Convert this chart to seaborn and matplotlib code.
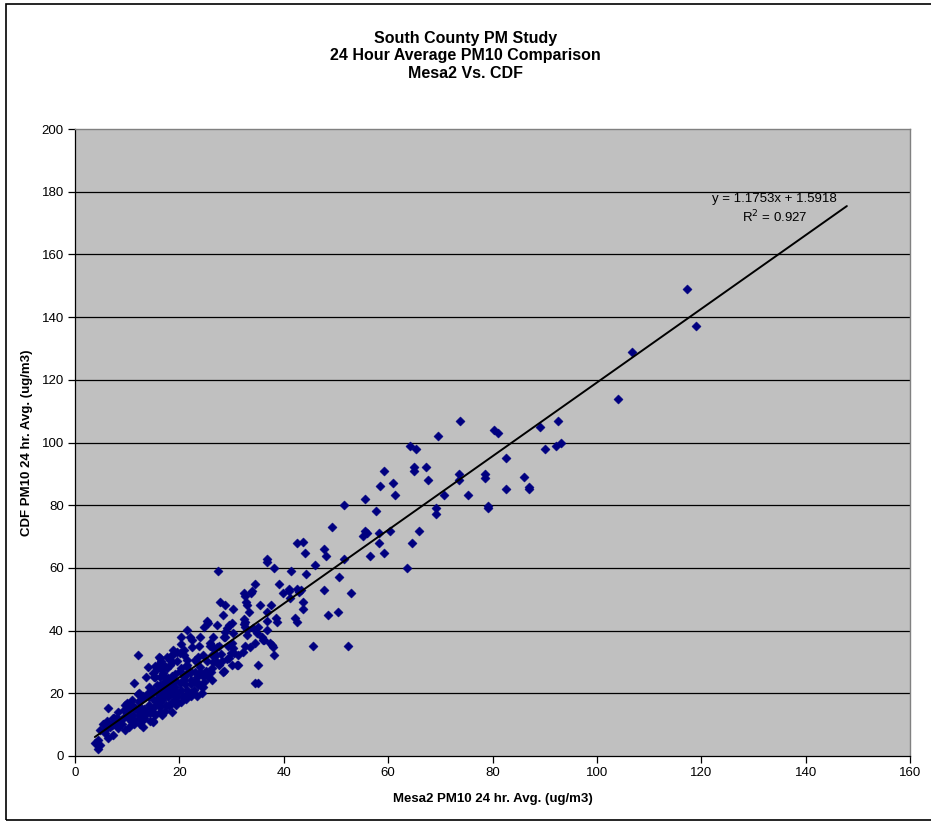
import numpy as np
import pandas as pd
import matplotlib
matplotlib.use("Agg")
import matplotlib.pyplot as plt
import seaborn as sns
from matplotlib.patches import Rectangle

# Mesa2 (x) vs CDF (y) 24 hr averages
mesa2 = [
    117.2, 118.9, 106.8, 104.1, 92.5, 89.1, 90.1, 92.2, 93.1, 82.5, 86.0, 87.0, 87.0, 82.5,
    73.8, 80.2, 81.1, 69.5, 64.1, 65.4, 64.9, 64.9, 67.2, 59.3, 67.6, 61.0, 58.5, 73.5, 73.5,
    78.6, 78.6, 61.4, 55.5, 70.8, 75.3, 51.6, 57.6, 69.1, 69.1, 79.2, 79.2, 49.3, 55.5, 55.1,
    55.9, 58.3, 60.3, 66.0, 58.2, 64.5, 43.6, 42.6, 47.8, 44.1, 48.0, 56.6, 59.3, 51.6, 46.0,
    63.7, 44.3, 50.5, 43.4, 47.8, 52.8, 43.7, 43.6, 48.4, 50.3, 45.7, 52.4,
    36.8, 36.8, 38.1, 41.4, 27.4, 39.1, 41.1, 42.5, 34.5, 32.3, 32.6, 33.9, 33.7, 39.9, 41.0,
    42.9, 41.2, 32.8, 33.0, 27.7, 28.7, 35.5, 37.6, 30.3, 33.4, 36.7, 28.4, 42.1, 38.6, 38.7,
    36.8, 42.5, 25.2, 25.5, 30.1, 29.6, 32.3, 32.6, 32.3, 32.6, 33.0, 32.9, 29.1, 28.8, 24.7,
    34.2, 35.1, 34.8, 35.8, 36.7, 28.7, 24.0, 36.1, 34.5, 33.5, 32.6, 37.7, 30.0, 30.3, 27.3,
    26.5, 25.9, 27.3, 21.5, 30.3, 20.4, 22.0, 22.5, 26.5, 25.9, 20.8, 20.2, 22.4, 23.8, 29.3,
    29.9, 29.6, 28.0, 26.8, 24.6, 23.6, 23.0, 18.7, 16.2, 18.5, 19.5, 21.4, 20.4, 31.0, 28.5,
    26.0, 24.0, 24.5, 23.3, 22.0, 20.8, 16.3, 15.3, 16.9, 17.9, 26.2, 22.3, 23.5, 24.6, 19.2,
    20.1, 18.2, 15.7, 16.6, 15.0, 17.9, 18.8, 19.5, 16.9, 16.0,
    12.1, 16.0, 16.4, 18.5, 15.4, 17.2, 17.7, 18.2, 15.2, 16.9, 17.2, 18.5, 11.3, 16.3, 17.8,
    18.5, 12.3, 14.0, 15.7, 10.9, 12.5, 14.7, 16.6, 17.9, 6.4, 9.6, 10.9, 8.3, 9.9, 12.1, 13.4,
    15.0, 16.6, 18.5, 7.3, 8.9, 10.9, 13.1, 15.0, 5.4, 6.7, 8.3, 9.6, 4.8, 5.7, 7.3, 6.4, 4.5,
    3.8, 4.8, 4.5,
    14.0, 15.7, 24.0, 21.3, 23.0, 24.9, 24.7, 25.5, 27.5, 28.4, 30.0, 31.3, 35.1, 34.5, 35.1,
    36.2, 37.4, 38.0, 38.2, 28.6, 26.2, 27.6, 26.2, 27.1, 23.3, 20.8, 21.4, 17.6, 18.2, 16.3,
    16.9, 15.0, 13.7, 16.3, 12.1, 13.4, 14.2, 9.9, 10.5, 11.5, 9.3, 7.5, 8.3, 7.0, 6.1, 5.6,
    4.0, 15.0, 13.1, 12.5, 14.4, 16.3, 17.6, 18.2, 19.5, 19.2, 20.8, 21.4, 22.4, 20.4, 18.8,
    19.5,
    10.2, 11.1, 12.3, 13.2, 14.1, 15.3, 16.2, 17.1, 18.3, 19.2, 20.3, 21.1, 22.2, 23.1, 11.4,
    12.6, 13.5, 14.4, 15.6, 17.4, 18.6, 19.4, 20.6, 21.7, 22.8, 24.2, 25.1, 26.3, 27.2, 28.1,
    29.2, 30.4, 31.2, 32.1, 25.3, 26.4, 22.1, 21.2, 19.1, 20.2, 17.0, 16.1, 14.2, 13.1, 12.2,
    11.2, 10.1, 9.2, 8.1, 7.2, 6.2, 9.1, 10.3, 11.3, 12.4, 13.3, 14.3, 15.4, 16.3, 17.3, 18.1,
    19.3, 20.4, 21.3, 22.3, 23.4, 24.3,
]
cdf = [
    148.9, 137.1, 129.0, 113.9, 106.9, 104.9, 97.8, 98.9, 99.8, 95.0, 88.9, 85.9, 85.1, 85.1,
    106.9, 104.0, 103.1, 102.1, 98.9, 97.9, 92.1, 90.9, 92.2, 90.9, 88.0, 87.0, 86.0, 89.9, 88.0,
    89.9, 88.8, 83.2, 81.9, 83.2, 83.2, 80.0, 78.0, 79.1, 77.1, 79.8, 79.0, 72.9, 71.9, 70.2,
    71.0, 71.0, 71.9, 71.9, 68.0, 68.0, 68.2, 68.0, 66.1, 64.9, 63.9, 63.9, 64.9, 62.9, 61.0,
    60.1, 58.2, 57.2, 53.1, 53.1, 52.1, 49.2, 46.9, 45.0, 45.9, 35.1, 35.1,
    62.9, 61.9, 60.1, 59.1, 59.1, 55.0, 53.3, 53.3, 55.0, 52.1, 51.1, 52.7, 51.9, 51.9, 52.7,
    52.4, 50.3, 49.2, 48.2, 49.2, 48.2, 48.2, 48.2, 46.9, 46.0, 46.0, 45.0, 44.1, 43.9, 42.8,
    43.1, 42.8, 43.2, 42.3, 42.3, 41.7, 43.8, 42.8, 42.1, 41.2, 40.2, 38.7, 40.7, 39.7, 41.0,
    40.7, 41.2, 39.1, 38.1, 40.2, 37.9, 38.1, 37.0, 35.9, 34.9, 35.1, 35.4, 35.9, 34.4, 34.9,
    34.4, 35.1, 41.8, 40.2, 39.3, 38.1, 38.1, 37.0, 38.1, 35.9, 33.8, 32.9, 34.7, 35.1, 35.1,
    32.8, 31.2, 32.5, 32.2, 32.2, 31.7, 30.6, 32.5, 31.2, 30.1, 30.3, 29.0, 28.0, 29.0, 27.1,
    26.9, 26.9, 25.5, 25.1, 26.4, 25.1, 28.0, 25.1, 26.4, 24.8, 24.2, 22.9, 22.6, 22.1, 24.2,
    23.2, 22.6, 22.6, 21.6, 21.1, 21.1, 20.0, 18.9, 20.0, 18.9,
    32.2, 31.5, 30.4, 32.2, 28.7, 28.7, 28.0, 29.0, 25.1, 25.8, 24.0, 25.5, 23.3, 22.6, 22.1,
    23.2, 20.0, 20.2, 20.0, 17.9, 17.9, 18.4, 17.9, 18.9, 15.2, 16.3, 15.5, 14.1, 13.6, 14.4, 13.1,
    14.1, 13.1, 14.1, 12.0, 11.5, 10.9, 9.2, 11.3, 10.2, 9.3, 8.8, 8.3, 8.3, 7.2, 6.7, 5.6, 5.1,
    4.1, 3.5, 2.1,
    28.5, 27.7, 28.5, 28.7, 26.9, 26.4, 23.7, 25.3, 29.0, 26.9, 29.0, 29.0, 29.0, 23.2, 23.2,
    37.0, 35.9, 34.9, 32.2, 38.1, 35.1, 35.1, 32.2, 32.2, 30.1, 32.2, 30.6, 31.7, 30.6, 29.6,
    28.5, 26.4, 25.3, 25.3, 19.8, 18.9, 18.9, 16.8, 15.7, 15.2, 14.7, 12.0, 10.9, 9.9, 8.8, 10.1,
    4.0, 10.9, 11.5, 13.1, 13.6, 15.7, 20.5, 22.1, 20.0, 17.9, 24.2, 21.1, 20.0, 35.7, 33.8,
    33.3,
    12.1, 13.2, 12.0, 15.1, 16.2, 16.1, 17.2, 19.1, 20.2, 22.1, 21.2, 23.1, 24.2, 24.0, 11.1,
    15.2, 14.1, 15.3, 17.1, 16.2, 17.1, 19.2, 19.0, 20.1, 21.2, 22.2, 27.1, 28.2, 30.1, 30.2,
    31.1, 33.0, 32.1, 33.2, 30.2, 30.1, 27.2, 26.1, 26.2, 27.1, 23.1, 21.1, 22.1, 19.2, 17.1,
    16.1, 14.2, 12.1, 12.2, 10.1, 11.1, 10.1, 9.1, 10.2, 10.1, 12.2, 11.1, 13.1, 14.1, 14.2,
    16.1, 16.2, 17.1, 18.1, 19.1, 19.2, 20.1,
]

# trendline as reported on the chart
slope = 1.1753
intercept = 1.5918
r_squared = 0.927
forecast_forward = 29

title_lines = ["South County PM Study", "24 Hour Average PM10 Comparison", "Mesa2 Vs. CDF"]
x_label = "Mesa2 PM10 24 hr. Avg. (ug/m3)"
y_label = "CDF PM10 24 hr. Avg. (ug/m3)"
x_ticks = [0, 20, 40, 60, 80, 100, 120, 140, 160]
y_ticks = [0, 20, 40, 60, 80, 100, 120, 140, 160, 180, 200]

df = pd.DataFrame({"mesa2": mesa2, "cdf": cdf})

sns.set_theme(style="white")
plt.rcParams["font.family"] = ["Liberation Sans", "DejaVu Sans"]
plt.rcParams["text.color"] = "black"
plt.rcParams["axes.labelcolor"] = "black"
plt.rcParams["xtick.color"] = "black"
plt.rcParams["ytick.color"] = "black"

fig = plt.figure(figsize=(9.31, 8.23), dpi=100)
ax = fig.add_axes([75 / 931, 67 / 823, 835 / 931, 627 / 823])
ax.set_facecolor("#C0C0C0")

# horizontal gridlines
for yv in y_ticks[1:-1]:
    ax.axhline(yv, color="black", lw=0.9, zorder=1)

sns.scatterplot(data=df, x="mesa2", y="cdf", marker="D", s=22, color="#000080",
                edgecolor="#000080", linewidth=0.3, ax=ax, zorder=3, legend=False)

# linear trendline, extended forward like Excel
xs = np.array([df["mesa2"].min(), df["mesa2"].max() + forecast_forward])
ax.plot(xs, slope * xs + intercept, color="black", lw=1.4, zorder=4)

ax.text(134.1, 177.7, f"y = {slope}x + {intercept}", ha="center", va="center", fontsize=9.5)
ax.text(134.1, 171.8, f"R$^2$ = {r_squared}", ha="center", va="center", fontsize=9.5)

ax.set_xlim(x_ticks[0], x_ticks[-1])
ax.set_ylim(y_ticks[0], y_ticks[-1])
ax.set_xticks(x_ticks)
ax.set_yticks(y_ticks)
ax.tick_params(axis="both", direction="out", length=5, width=0.9, color="black",
               labelsize=9.5, pad=3, bottom=True, left=True)
ax.set_xlabel(x_label, fontsize=9.5, fontweight="bold", labelpad=10)
ax.set_ylabel(y_label, fontsize=9.5, fontweight="bold", labelpad=6)

for side in ["top", "right"]:
    ax.spines[side].set_color("#808080")
    ax.spines[side].set_linewidth(1.0)
for side in ["left", "bottom"]:
    ax.spines[side].set_color("black")
    ax.spines[side].set_linewidth(0.9)

for i, line in enumerate(title_lines):
    fig.text(0.5, 1 - (38 + 17.5 * i) / 823, line, ha="center", va="center",
             fontsize=11.5, fontweight="bold")

# outer chart frame
fig.patches.append(Rectangle((6 / 931, 3 / 823), 930 / 931, 816 / 823, transform=fig.transFigure,
                             fill=False, edgecolor="black", lw=1.2))

fig.savefig("out.png", dpi=100, facecolor="white")
